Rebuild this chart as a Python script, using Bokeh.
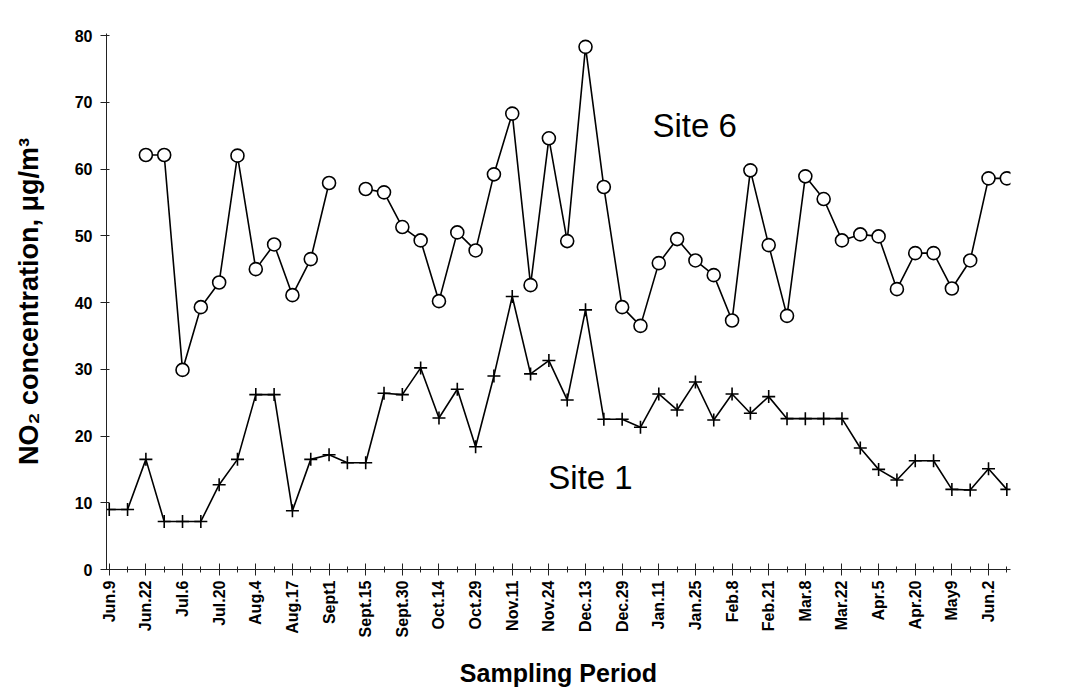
import numpy as np
from bokeh.plotting import figure
from bokeh.models import FixedTicker, Range1d, Label
from bokeh.embed import file_html
from bokeh.resources import INLINE

nan = float("nan")

tick_labels = ["Jun.9", "Jun.22", "Jul.6", "Jul.20", "Aug.4", "Aug.17", "Sept1",
               "Sept.15", "Sept.30", "Oct.14", "Oct.29", "Nov.11", "Nov.24",
               "Dec.13", "Dec.29", "Jan.11", "Jan.25", "Feb.8", "Feb.21",
               "Mar.8", "Mar.22", "Apr.5", "Apr.20", "May9", "Jun.2"]

site1 = [9.0, 9.0, 16.5, 7.2, 7.2, 7.2, 12.7, 16.5, 26.2, 26.2,
         8.8, 16.5, 17.2, 16.0, 16.0, 26.4, 26.2, 30.2, 22.7, 27.0,
         18.4, 29.0, 40.9, 29.3, 31.3, 25.4, 38.9, 22.5, 22.5, 21.3,
         26.3, 23.9, 28.1, 22.4, 26.3, 23.4, 25.9, 22.6, 22.6, 22.6,
         22.6, 18.2, 15.0, 13.4, 16.3, 16.3, 12.0, 11.9, 15.1, 12.0]

site6 = [nan, nan, 62.1, 62.1, 29.9, 39.3, 43.0, 62.0, 45.0, 48.7,
         41.1, 46.5, 57.9, nan, 57.0, 56.5, 51.3, 49.3, 40.2, 50.5,
         47.8, 59.2, 68.3, 42.6, 64.6, 49.2, 78.3, 57.3, 39.3, 36.5,
         45.9, 49.5, 46.3, 44.1, 37.3, 59.8, 48.6, 38.0, 58.9, 55.5,
         49.3, 50.2, 49.9, 42.0, 47.4, 47.4, 42.1, 46.3, 58.6, 58.6]

week = list(range(len(site1)))
label_pos = week[::2]

p = figure(width=1078, height=692, output_backend="svg", toolbar_location=None,
           x_range=Range1d(-0.15, 49.2), y_range=Range1d(0, 80.3),
           min_border_left=106, min_border_right=68, min_border_top=33,
           min_border_bottom=123)
p.grid.visible = False
p.outline_line_color = None
p.background_fill_color = "white"

# lines and markers
p.line(week, site6, line_color="black", line_width=1.6)
p.scatter(week, site6, marker="circle", size=13, fill_color="white",
          line_color="black", line_width=1.6)
p.line(week, site1, line_color="black", line_width=1.6)
p.scatter(week, site1, marker="cross", size=13, line_color="black", line_width=1.6)

# x axis
xa = p.xaxis[0]
xa.ticker = FixedTicker(ticks=label_pos, minor_ticks=week)
xa.major_label_overrides = {i: t for i, t in zip(label_pos, tick_labels)}
xa.major_label_orientation = np.pi / 2
xa.major_label_text_font = "Liberation Sans"
xa.major_label_text_font_style = "bold"
xa.major_label_text_font_size = "16px"
xa.major_label_text_color = "black"
xa.major_label_standoff = 5
xa.major_tick_in = 6
xa.major_tick_out = 6
xa.minor_tick_in = 3
xa.minor_tick_out = 3
xa.axis_line_color = "#222222"
xa.major_tick_line_color = "#222222"
xa.minor_tick_line_color = "#222222"
xa.axis_label = "Sampling Period"
xa.axis_label_text_font = "Liberation Sans"
xa.axis_label_text_font_style = "bold"
xa.axis_label_text_font_size = "25px"
xa.axis_label_text_color = "black"
xa.axis_label_standoff = 19

# y axis
ya = p.yaxis[0]
ya.ticker = FixedTicker(ticks=list(range(0, 81, 10)))
ya.major_label_text_font = "Liberation Sans"
ya.major_label_text_font_style = "bold"
ya.major_label_text_font_size = "16px"
ya.major_label_text_color = "black"
ya.major_label_standoff = 8
ya.major_tick_in = 3
ya.major_tick_out = 6
ya.minor_tick_line_color = None
ya.axis_line_color = "#222222"
ya.major_tick_line_color = "#222222"
ya.axis_label = "NO\u2082 concentration, \u03bcg/m\u00b3"
ya.axis_label_text_font = "Liberation Sans"
ya.axis_label_text_font_style = "bold"
ya.axis_label_text_font_size = "27px"
ya.axis_label_text_color = "black"
ya.axis_label_standoff = 28

# series labels
p.add_layout(Label(x=29.65, y=66.5, text="Site 6", text_font="Liberation Sans",
                   text_font_size="33px", text_color="black",
                   text_baseline="alphabetic"))
p.add_layout(Label(x=23.97, y=13.8, text="Site 1", text_font="Liberation Sans",
                   text_font_size="33px", text_color="black",
                   text_baseline="alphabetic"))

open("out.html", "w").write(file_html(p, INLINE))
